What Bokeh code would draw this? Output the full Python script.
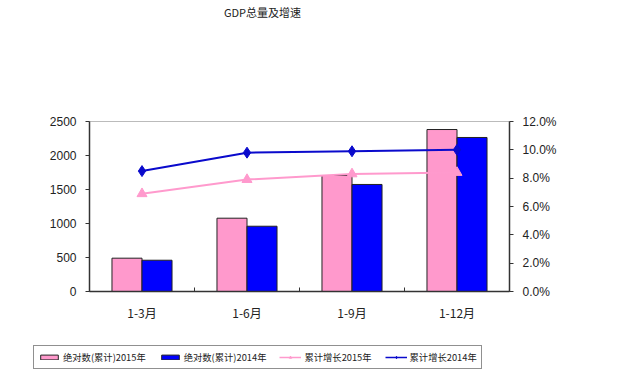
from bokeh.plotting import figure
from bokeh.layouts import column
from bokeh.models import (Range1d, LinearAxis, FixedTicker, PrintfTickFormatter,
                          Legend, LegendItem, ColumnDataSource, Label)
from bokeh.embed import file_html
from bokeh.resources import INLINE

# ---- data ----
categories = ["1-3月", "1-6月", "1-9月", "1-12月"]
abs_2015 = [490, 1078, 1706, 2382]
abs_2014 = [460, 960, 1574, 2265]
growth_2015 = [6.9, 7.9, 8.3, 8.4]
growth_2014 = [8.5, 9.8, 9.9, 10.0]
left_ticks = [0, 500, 1000, 1500, 2000, 2500]
right_ticks = [0, 2, 4, 6, 8, 10, 12]
labels = ["绝对数(累计)2015年", "绝对数(累计)2014年", "累计增长2015年", "累计增长2014年"]
chart_title = "GDP总量及增速"

n = len(categories)
centers = [i + 0.5 for i in range(n)]
bar_w = 0.286

src = ColumnDataSource(dict(
    x=centers,
    x15=[c - bar_w / 2 for c in centers],
    x14=[c + bar_w / 2 for c in centers],
    a15=abs_2015, a14=abs_2014, g15=growth_2015, g14=growth_2014,
))

cjk = "Noto Sans CJK SC"
tick_font = "Liberation Sans"
pink = "#FF99CC"
blue = "#0000FF"
pline = "#FF9ACD"
bline = "#0A0ACC"
W = 622


def strip(h):
    f = figure(width=W, height=h, output_backend="svg", toolbar_location=None,
               x_axis_location=None, y_axis_location=None,
               min_border_left=0, min_border_right=0, min_border_top=0, min_border_bottom=0,
               x_range=Range1d(0, 1), y_range=Range1d(0, 1), frame_align=False)
    f.grid.visible = False
    f.outline_line_color = None
    f.background_fill_color = "white"
    f.border_fill_color = "white"
    return f


# ---- title strip ----
top = strip(30)
top.add_layout(Label(x=262, y=19, x_units="screen", y_units="screen", text=chart_title,
                     text_font=cjk, text_font_size="11px", text_align="center",
                     text_baseline="middle", text_color="#222222"))

# ---- main chart ----
p = figure(width=W, height=310, output_backend="svg", toolbar_location=None,
           x_range=Range1d(0, n), y_range=Range1d(0, 2500),
           min_border_left=89, min_border_right=113, min_border_top=91,
           min_border_bottom=49, frame_align=False)
p.extra_y_ranges = {"pct": Range1d(0, 12)}
p.grid.visible = False
p.outline_line_color = "#bbbbbb"
p.outline_line_width = 1
p.background_fill_color = "white"
p.border_fill_color = "white"

# x axis
p.xaxis.ticker = FixedTicker(ticks=centers, minor_ticks=list(range(n + 1)))
p.xaxis.major_label_overrides = {c: lab for c, lab in zip(centers, categories)}
p.xaxis.major_tick_line_color = None
p.xaxis.minor_tick_in = 4
p.xaxis.minor_tick_out = 0
p.xaxis.minor_tick_line_color = "#333333"
p.xaxis.axis_line_color = "#333333"
p.xaxis.axis_line_width = 1.5
p.xaxis.major_label_text_font = cjk
p.xaxis.major_label_text_font_size = "12px"
p.xaxis.major_label_text_color = "#222222"
p.xaxis.major_label_standoff = 6

# left axis
p.yaxis.ticker = FixedTicker(ticks=left_ticks)
p.yaxis.minor_tick_line_color = None
p.yaxis.major_tick_in = 0
p.yaxis.major_tick_out = 4
p.yaxis.axis_line_color = "#333333"
p.yaxis.axis_line_width = 1.5
p.yaxis.major_tick_line_color = "#333333"
p.yaxis.major_label_text_font = tick_font
p.yaxis.major_label_text_font_size = "12px"
p.yaxis.major_label_text_color = "#222222"
p.yaxis.major_label_standoff = 9

# right axis
ra = LinearAxis(y_range_name="pct", ticker=FixedTicker(ticks=right_ticks),
                formatter=PrintfTickFormatter(format="%.1f%%"))
ra.minor_tick_line_color = None
ra.major_tick_in = 0
ra.major_tick_out = 4
ra.axis_line_color = "#333333"
ra.axis_line_width = 1.5
ra.major_tick_line_color = "#333333"
ra.major_label_text_font = tick_font
ra.major_label_text_font_size = "12px"
ra.major_label_text_color = "#222222"
ra.major_label_standoff = 9
p.add_layout(ra, "right")

# bars
p.vbar(x="x15", top="a15", width=bar_w, source=src, fill_color=pink,
       line_color="#222222", line_width=1)
p.vbar(x="x14", top="a14", width=bar_w, source=src, fill_color=blue,
       line_color="#222222", line_width=1)

# lines
p.line(x="x", y="g15", source=src, y_range_name="pct", line_color=pline, line_width=2)
p.scatter(x="x", y="g15", source=src, y_range_name="pct", marker="triangle",
          size=10, fill_color=pline, line_color=pline)
p.line(x="x", y="g14", source=src, y_range_name="pct", line_color=bline, line_width=2)
p.scatter(x="x", y="g14", source=src, y_range_name="pct", marker="diamond",
          size=11, fill_color=bline, line_color=bline)

# ---- legend strip ----
lg = strip(42)
nan = float("nan")
dummy = ColumnDataSource(dict(x=[nan], y=[nan]))
d15 = lg.vbar(x="x", top="y", width=0.1, source=dummy, fill_color=pink,
              line_color="#222222", line_width=1)
d14 = lg.vbar(x="x", top="y", width=0.1, source=dummy, fill_color=blue,
              line_color="#222222", line_width=1)
dl15 = lg.line(x="x", y="y", source=dummy, line_color=pline, line_width=1.5)
dm15 = lg.scatter(x="x", y="y", source=dummy, marker="triangle", size=7,
                  fill_color=pline, line_color=pline)
dl14 = lg.line(x="x", y="y", source=dummy, line_color=bline, line_width=1.5)
dm14 = lg.scatter(x="x", y="y", source=dummy, marker="diamond", size=8,
                  fill_color=bline, line_color=bline)

legend = Legend(items=[
    LegendItem(label=labels[0], renderers=[d15]),
    LegendItem(label=labels[1], renderers=[d14]),
    LegendItem(label=labels[2], renderers=[dl15, dm15]),
    LegendItem(label=labels[3], renderers=[dl14, dm14]),
], orientation="horizontal", location=(33, 13))
legend.label_text_font = cjk
legend.label_text_font_size = "9.3px"
legend.label_text_color = "#222222"
legend.glyph_height = 6
legend.glyph_width = 22
legend.label_height = 9
legend.label_standoff = 3
legend.spacing = 13
legend.padding = 4
legend.margin = 0
legend.border_line_color = "#222222"
legend.border_line_width = 1.5
legend.background_fill_alpha = 1
lg.add_layout(legend, "center")

layout = column(top, p, lg, spacing=0)
open("out.html", "w").write(file_html(layout, INLINE))
